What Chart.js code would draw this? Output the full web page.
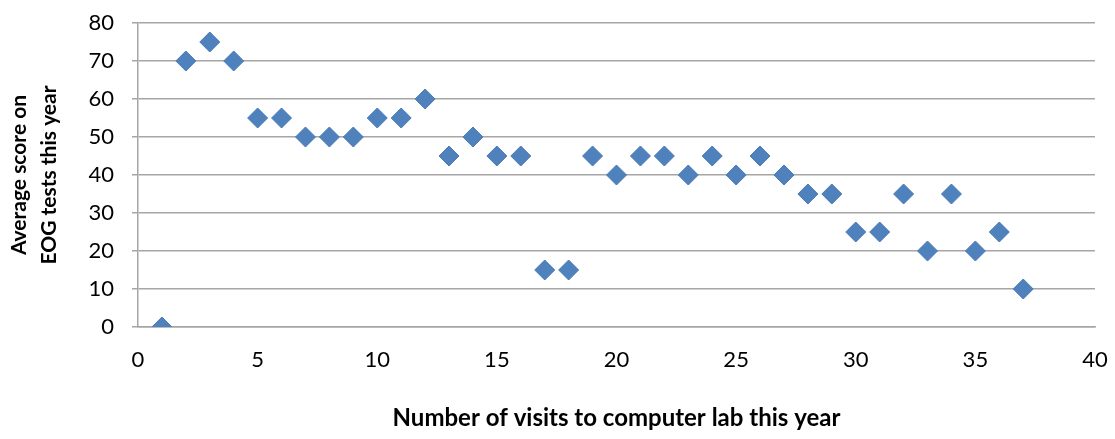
<!DOCTYPE html>
<html>
<head>
<meta charset="utf-8">
<script src="https://cdn.jsdelivr.net/npm/chart.js@4"></script>
<style>
  html, body { margin: 0; padding: 0; background: #fff; }
  #wrap { width: 1115px; height: 439px; }
</style>
</head>
<body>
<div id="wrap"><canvas id="scoreChart"></canvas></div>
<script>
// visits to the computer lab vs. average EOG score
const visits = [1, 2, 3, 4, 5, 6, 7, 8, 9, 10, 11, 12, 13, 14, 15, 16, 17, 18, 19,
  20, 21, 22, 23, 24, 25, 26, 27, 28, 29, 30, 31, 32, 33, 34, 35, 36, 37];
const scores = [0, 70, 75, 70, 55, 55, 50, 50, 50, 55, 55, 60, 45, 50, 45, 45, 15, 15, 45,
  40, 45, 45, 40, 45, 40, 45, 40, 35, 35, 25, 25, 35, 20, 35, 20, 25, 10];
const xTitle = 'Number of visits to computer lab this year';
const yTitle = ['Average score on', 'EOG tests this year'];

const points = visits.map((v, i) => ({ x: v, y: scores[i] }));
const gridColor = '#a6a6a6';
const fontFamily = 'Lato, "Open Sans", sans-serif';

new Chart(document.getElementById('scoreChart'), {
  type: 'scatter',
  data: {
    datasets: [{
      data: points,
      pointStyle: 'rectRot',
      pointRadius: 10,
      pointHoverRadius: 10,
      backgroundColor: '#4f81bd',
      borderColor: '#4a7ab5',
      borderWidth: 1
    }]
  },
  options: {
    responsive: true,
    maintainAspectRatio: false,
    animation: false,
    layout: { padding: { top: 23, right: 20, left: 0, bottom: 0 } },
    plugins: {
      legend: { display: false },
      tooltip: { enabled: false }
    },
    scales: {
      x: {
        min: 0,
        max: 40,
        ticks: { stepSize: 5, color: '#000', padding: 20, font: { family: fontFamily, size: 22 } },
        grid: { display: false, drawTicks: false },
        border: { display: true, color: gridColor, width: 1.5 },
        title: {
          display: true,
          text: xTitle,
          color: '#000',
          padding: { top: 20, bottom: 6 },
          font: { family: fontFamily, size: 24, weight: 'bold' }
        },
        afterFit: scale => {
          scale.height = 112;
          scale.paddingLeft = 0;
          scale.paddingRight = 0;
        }
      },
      y: {
        min: 0,
        max: 80,
        ticks: { stepSize: 10, color: '#000', padding: 18, font: { family: fontFamily, size: 22 } },
        grid: { color: gridColor, lineWidth: 1.5, tickLength: 6 },
        border: { display: true, color: gridColor, width: 1.5 },
        title: {
          display: true,
          text: yTitle,
          color: '#000',
          padding: { top: 4, bottom: 0 },
          font: { family: fontFamily, size: 21, weight: 'bold', lineHeight: 1.45 }
        },
        afterFit: scale => {
          scale.width = 138;
          scale.paddingTop = 0;
          scale.paddingBottom = 0;
        }
      }
    }
  }
});
</script>
</body>
</html>
